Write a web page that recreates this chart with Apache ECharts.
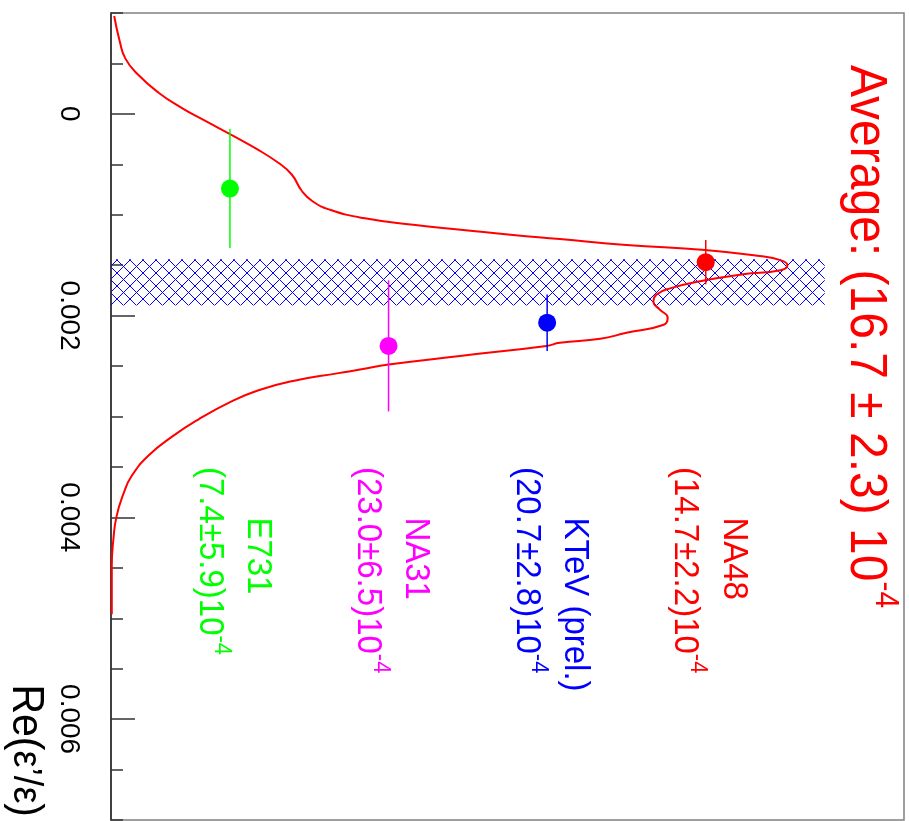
<!DOCTYPE html>
<html>
<head>
<meta charset="utf-8">
<script src="https://cdn.jsdelivr.net/npm/echarts@6/dist/echarts.min.js"></script>
<style>
  html, body { margin: 0; padding: 0; background: #ffffff; }
  #chart { width: 909px; height: 821px; }
</style>
</head>
<body>
<div id="chart"></div>
<script>
// Re(eps'/eps) measurements, in units of 1e-4
const SCALE = 1e-4;
const experiments = ['NA48', 'KTeV (prel.)', 'NA31', 'E731'];
const expValues = [14.7, 20.7, 23.0, 7.4];
const expErrors = [2.2, 2.8, 6.5, 5.9];
const expColors = ['#ff0000', '#0000ff', '#ff00ff', '#00ff00'];
const expRows = [0.75, 0.55, 0.35, 0.15];

// world average and the width of its band
const avgValue = 16.7;
const avgError = 2.3;
const bandWidth = 0.9;

// ideogram curve: position (1e-4) and height (fraction of frame)
const curveRe = [-9.7, -7.2, -5.5, -3.9, -2.1, -0.6, 0.7, 2.0, 3.4, 4.85, 6.01, 7.62, 8.66, 9.5,
  10.33, 11.0, 11.5, 12.0, 12.4, 13.0, 13.5, 14.1, 14.5, 15.0, 15.5, 15.9, 16.5, 17.3, 17.9, 18.6,
  19.4, 20.2, 20.9, 21.7, 22.3, 22.7, 23.0, 24.0, 24.85, 25.35, 25.7, 26.5, 27.4, 28.5, 30.3, 32.0,
  33.9, 35.9, 37.6, 39.9, 42.2, 44.8, 49.6];
const curveHeight = [0.004, 0.011, 0.018, 0.034, 0.060, 0.089, 0.119, 0.150, 0.182, 0.211, 0.2279, 0.2405, 0.2541, 0.2762,
  0.3182, 0.381, 0.444, 0.507, 0.566, 0.650, 0.749, 0.818, 0.844, 0.853, 0.844, 0.797, 0.749, 0.705, 0.688, 0.684,
  0.692, 0.702, 0.697, 0.650, 0.617, 0.566, 0.549, 0.440, 0.350, 0.314, 0.287, 0.228, 0.186, 0.152, 0.110, 0.077,
  0.047, 0.026, 0.016, 0.007, 0.003, 0.001, 0.001];

// axis
const axisMin = -0.001;
const axisMax = 0.007;
const minorStep = 0.0005;
const majorTicks = [0, 0.002, 0.004, 0.006];
const axisTitleMain = ['Re(', ')'];
const axisTitleGreek = 'ε’/ε';

const FONT = '"Liberation Sans", Arial, Helvetica, sans-serif';
const TEXT_STRETCH = 1.08;

function hatchPattern() {
  const c = document.createElement('canvas');
  c.width = 13; c.height = 13;
  const g = c.getContext('2d');
  g.strokeStyle = '#0000ff';
  g.lineWidth = 1;
  g.beginPath();
  g.moveTo(0, 0); g.lineTo(13, 13);
  g.moveTo(13, 0); g.lineTo(0, 13);
  g.stroke();
  return c;
}

const chart = echarts.init(document.getElementById('chart'), null, { renderer: 'canvas' });

const tickStyle = { color: '#333333', width: 1.5 };

chart.setOption({
  animation: false,
  backgroundColor: '#ffffff',
  grid: { left: 111, top: 13, right: 5, bottom: 1, show: true, borderColor: '#808080', borderWidth: 1.5 },
  xAxis: { type: 'value', min: 0, max: 1, show: false },
  yAxis: [
    {
      type: 'value', inverse: true, min: axisMin, max: axisMax, interval: minorStep, position: 'left',
      axisLine: { show: true, lineStyle: { color: '#222222', width: 1.5 } },
      axisTick: { show: true, inside: true, length: 12, lineStyle: tickStyle },
      axisLabel: { show: false },
      splitLine: { show: false }
    },
    {
      type: 'value', inverse: true, min: axisMin, max: axisMax, position: 'left',
      axisLine: { show: false },
      axisTick: { show: true, inside: true, length: 24, customValues: majorTicks, lineStyle: tickStyle },
      axisLabel: {
        show: true, customValues: majorTicks, rotate: -90, margin: 28,
        fontSize: 28, fontFamily: FONT, color: '#000000',
        formatter: v => (v === 0 ? '0' : v.toFixed(3))
      },
      splitLine: { show: false }
    }
  ],
  series: [
    {
      // average band
      type: 'custom', name: 'average', z: 1, silent: true,
      data: [[avgValue - avgError, avgValue + avgError]],
      renderItem: (params, api) => {
        const a = api.coord([0, api.value(0) * SCALE]);
        const b = api.coord([bandWidth, api.value(1) * SCALE]);
        return {
          type: 'rect',
          shape: { x: a[0], y: a[1], width: b[0] - a[0], height: b[1] - a[1] },
          style: { fill: { image: hatchPattern(), repeat: 'repeat' } }
        };
      }
    },
    {
      type: 'line', name: 'ideogram', z: 3, silent: true,
      data: curveRe.map((r, i) => [curveHeight[i], r * SCALE]),
      showSymbol: false, smooth: 0.5,
      lineStyle: { color: '#ff0000', width: 2 }
    },
    {
      type: 'custom', name: 'errors', z: 4, silent: true,
      data: expValues.map((v, i) => [expRows[i], v, expErrors[i]]),
      renderItem: (params, api) => {
        const x = api.value(0), v = api.value(1), e = api.value(2);
        const a = api.coord([x, (v - e) * SCALE]);
        const b = api.coord([x, (v + e) * SCALE]);
        return {
          type: 'line',
          shape: { x1: a[0], y1: a[1], x2: b[0], y2: b[1] },
          style: { stroke: expColors[params.dataIndex], lineWidth: 1.5 }
        };
      }
    },
    {
      type: 'scatter', name: 'points', z: 5, silent: true,
      symbol: 'circle', symbolSize: 18,
      data: expValues.map((v, i) => ({ value: [expRows[i], v * SCALE], itemStyle: { color: expColors[i], opacity: 1 } }))
    }
  ]
});

// text annotations, placed in data coordinates and read clockwise
const px = (h, re) => chart.convertToPixel({ gridIndex: 0 }, [h, re * SCALE]);
const ROT = -Math.PI / 2;
const nameStartRe = 40, valueStartRe = 35;
const nameOffset = 0.035, valueOffset = -0.026;
const graphics = [];
const fmt = x => x.toFixed(1);

experiments.forEach((name, i) => {
  const pn = px(expRows[i] + nameOffset, nameStartRe);
  graphics.push({
    type: 'text', x: pn[0], y: pn[1], rotation: ROT, scaleY: TEXT_STRETCH, silent: true,
    style: { text: name, fill: expColors[i], fontSize: 33, fontFamily: FONT, align: 'left', verticalAlign: 'middle' }
  });
  const pv = px(expRows[i] + valueOffset, valueStartRe);
  graphics.push({
    type: 'text', x: pv[0] - 16.5 * TEXT_STRETCH, y: pv[1], rotation: ROT, scaleY: TEXT_STRETCH, silent: true,
    style: {
      text: '{m|(' + fmt(expValues[i]) + '±' + fmt(expErrors[i]) + ')10}{s|-4}',
      fill: expColors[i], align: 'left', verticalAlign: 'bottom',
      rich: {
        m: { fontSize: 33, lineHeight: 33, fontFamily: FONT, fill: expColors[i], verticalAlign: 'bottom' },
        s: { fontSize: 22, lineHeight: 22, fontFamily: FONT, fill: expColors[i], verticalAlign: 'bottom', padding: [0, 0, 17, 0] }
      }
    }
  });
});

const pa = px(0.951, -4.85);
graphics.push({
  type: 'text', x: pa[0] - 24 * TEXT_STRETCH, y: pa[1], rotation: ROT, scaleY: TEXT_STRETCH, silent: true,
  style: {
    text: '{m|Average: (' + fmt(avgValue) + ' ± ' + fmt(avgError) + ') 10}{s|-4}',
    fill: '#ff0000', align: 'left', verticalAlign: 'bottom',
    rich: {
      m: { fontSize: 48, lineHeight: 48, fontFamily: FONT, fill: '#ff0000', verticalAlign: 'bottom' },
      s: { fontSize: 30, lineHeight: 30, fontFamily: FONT, fill: '#ff0000', verticalAlign: 'bottom', padding: [0, 0, 27, 0] }
    }
  }
});

// axis title at the far end of the axis
const pt = px(0, 69.7);
graphics.push({
  type: 'text', x: 25, y: pt[1], rotation: ROT, scaleY: TEXT_STRETCH, silent: true,
  style: {
    text: '{a|' + axisTitleMain[0] + '}{b|' + axisTitleGreek + '}{a|' + axisTitleMain[1] + '}',
    fill: '#000000', align: 'right', verticalAlign: 'middle',
    rich: {
      a: { fontSize: 41, fontFamily: FONT, fill: '#000000' },
      b: { fontSize: 38, fontFamily: FONT, fill: '#000000' }
    }
  }
});

chart.setOption({ graphic: graphics });
</script>
</body>
</html>
